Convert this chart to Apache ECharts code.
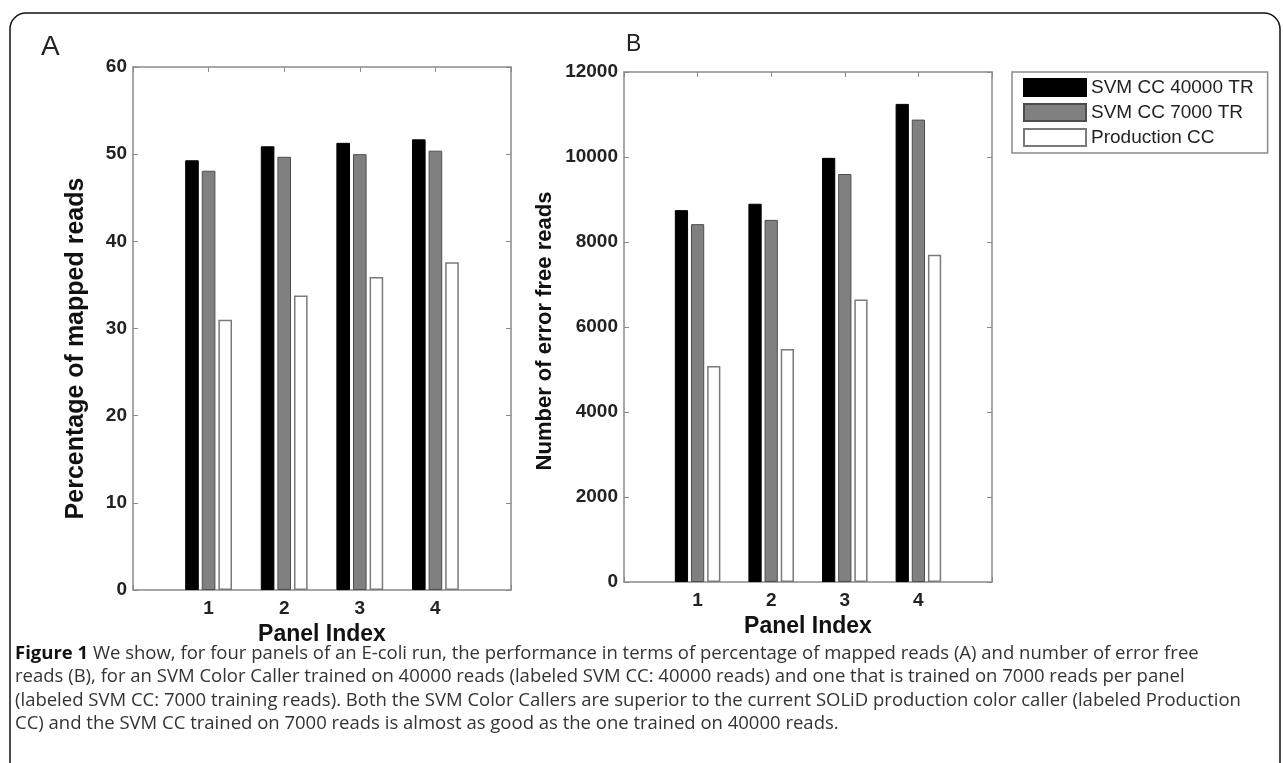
<!DOCTYPE html>
<html>
<head>
<meta charset="utf-8">
<title>Figure 1</title>
<script src="https://cdn.jsdelivr.net/npm/echarts@6/dist/echarts.min.js"></script>
<style>
  html, body { margin: 0; padding: 0; background: #fff; }
  #chart { width: 1283px; height: 763px; }
</style>
</head>
<body>
<div id="chart"></div>
<script>
// values
const panelIndex = [1, 2, 3, 4];
const panelLabels = ["1", "2", "3", "4"];
const seriesNames = ["SVM CC 40000 TR", "SVM CC 7000 TR", "Production CC"];

// A: percentage of mapped reads
const mappedSvm40000 = [49.3, 50.9, 51.3, 51.7];
const mappedSvm7000 = [48.1, 49.7, 50.0, 50.4];
const mappedProduction = [31.0, 33.8, 35.9, 37.6];

// B: number of error free reads
const errorFreeSvm40000 = [8750, 8900, 9980, 11250];
const errorFreeSvm7000 = [8420, 8520, 9600, 10880];
const errorFreeProduction = [5080, 5480, 6650, 7700];

const yTicksA = [0, 10, 20, 30, 40, 50, 60];
const yTicksB = [0, 2000, 4000, 6000, 8000, 10000, 12000];

const captionLines = [
  "{b|Figure 1} We show, for four panels of an E-coli run, the performance in terms of percentage of mapped reads (A) and number of error free",
  "reads (B), for an SVM Color Caller trained on 40000 reads (labeled SVM CC: 40000 reads) and one that is trained on 7000 reads per panel",
  "(labeled SVM CC: 7000 training reads). Both the SVM Color Callers are superior to the current SOLiD production color caller (labeled Production",
  "CC) and the SVM CC trained on 7000 reads is almost as good as the one trained on 40000 reads."
];

const FONT = "Liberation Sans";
const AXIS_GREY = "#8a8a8a";

const barStyles = [
  { color: "#000000", borderColor: "#000000", borderWidth: 1 },
  { color: "#808080", borderColor: "#4d4d4d", borderWidth: 1 },
  { color: "#ffffff", borderColor: "#7a7a7a", borderWidth: 1.5 }
];

function pairs(values) {
  return panelIndex.map((p, i) => [p, values[i]]);
}

// bottom axis with labels + bare top axis (matlab box with inward ticks)
function xAxes(gridIndex, title, nameGap) {
  const base = {
    gridIndex: gridIndex,
    type: "value",
    min: 0,
    max: panelIndex.length + 1,
    interval: 1,
    splitLine: { show: false },
    axisLine: { show: true, onZero: false, lineStyle: { color: AXIS_GREY, width: 1.5 } },
    axisTick: { show: true, inside: true, length: 5, lineStyle: { color: AXIS_GREY } }
  };
  return [
    Object.assign({}, base, {
      position: "bottom",
      name: title,
      nameLocation: "middle",
      nameGap: nameGap,
      nameTextStyle: { fontFamily: FONT, fontWeight: "bold", fontSize: 23, color: "#111" },
      axisLabel: {
        margin: 9,
        fontFamily: FONT,
        fontWeight: "bold",
        fontSize: 19,
        color: "#222",
        formatter: (v) => panelLabels[panelIndex.indexOf(v)] || ""
      }
    }),
    Object.assign({}, base, { position: "top", axisLabel: { show: false } })
  ];
}

function yAxes(gridIndex, ticks, title, nameGap, titleSize, titleShift) {
  const base = {
    gridIndex: gridIndex,
    type: "value",
    min: ticks[0],
    max: ticks[ticks.length - 1],
    interval: ticks[1] - ticks[0],
    splitLine: { show: false },
    axisLine: { show: true, onZero: false, lineStyle: { color: AXIS_GREY, width: 1.5 } },
    axisTick: { show: true, inside: true, length: 5, lineStyle: { color: AXIS_GREY } }
  };
  return [
    Object.assign({}, base, {
      position: "left",
      name: title,
      nameLocation: "middle",
      nameGap: nameGap,
      nameTextStyle: {
        fontFamily: FONT, fontWeight: "bold", fontSize: titleSize, color: "#111",
        padding: [0, titleShift, 0, 0]
      },
      axisLabel: {
        margin: 6, fontFamily: FONT, fontWeight: "bold", fontSize: 19, color: "#222",
        formatter: (v) => String(v)
      }
    }),
    Object.assign({}, base, { position: "right", axisLabel: { show: false } })
  ];
}

function bars(values, k, axisIndex) {
  return {
    type: "bar",
    name: seriesNames[k],
    xAxisIndex: axisIndex,
    yAxisIndex: axisIndex,
    barWidth: "18%",
    barGap: "22%",
    itemStyle: barStyles[k],
    data: pairs(values)
  };
}

const chart = echarts.init(document.getElementById("chart"));

chart.setOption({
  backgroundColor: "#fff",
  animation: false,
  grid: [
    { left: 133, top: 67, width: 378, height: 523 },
    { left: 624, top: 72, width: 368, height: 510 }
  ],
  xAxis: [].concat(xAxes(0, "Panel Index", 24), xAxes(1, "Panel Index", 29)),
  yAxis: [].concat(
    yAxes(0, yTicksA, "Percentage of mapped reads", 44, 25, 40),
    yAxes(1, yTicksB, "Number of error free reads", 68, 22, 8)
  ),
  legend: {
    data: seriesNames,
    orient: "vertical",
    left: 1012,
    top: 72,
    padding: [6, 14, 6, 11],
    itemWidth: 62,
    itemHeight: 17,
    itemGap: 6,
    icon: "rect",
    borderColor: AXIS_GREY,
    borderWidth: 1.5,
    textStyle: { fontFamily: FONT, fontSize: 19, color: "#222" }
  },
  series: [
    bars(mappedSvm40000, 0, 0),
    bars(mappedSvm7000, 1, 0),
    bars(mappedProduction, 2, 0),
    // axes 2/3 belong to grid 1 (bottom/top and left/right)
    bars(errorFreeSvm40000, 0, 2),
    bars(errorFreeSvm7000, 1, 2),
    bars(errorFreeProduction, 2, 2)
  ],
  graphic: [
    {
      type: "rect",
      silent: true,
      z: -1,
      shape: { x: 10, y: 13, width: 1270, height: 820, r: 16 },
      style: { fill: "none", stroke: "#111", lineWidth: 1.5 }
    },
    {
      type: "text",
      left: 41,
      top: 33,
      style: { text: "A", fontFamily: FONT, fontSize: 28, fill: "#222" }
    },
    {
      type: "text",
      left: 626,
      top: 33,
      style: { text: "B", fontFamily: FONT, fontSize: 23, fill: "#222" }
    }
  ].concat(captionLines.map((line, i) => ({
    type: "text",
    left: 15,
    top: 644 + i * 23.5,
    style: {
      text: line,
      fontFamily: "Open Sans",
      fontSize: 18.5,
      fill: "#333",
      rich: { b: { fontFamily: "Open Sans", fontSize: 18.5, fontWeight: "bold", fill: "#111" } }
    }
  })))
});
</script>
</body>
</html>
